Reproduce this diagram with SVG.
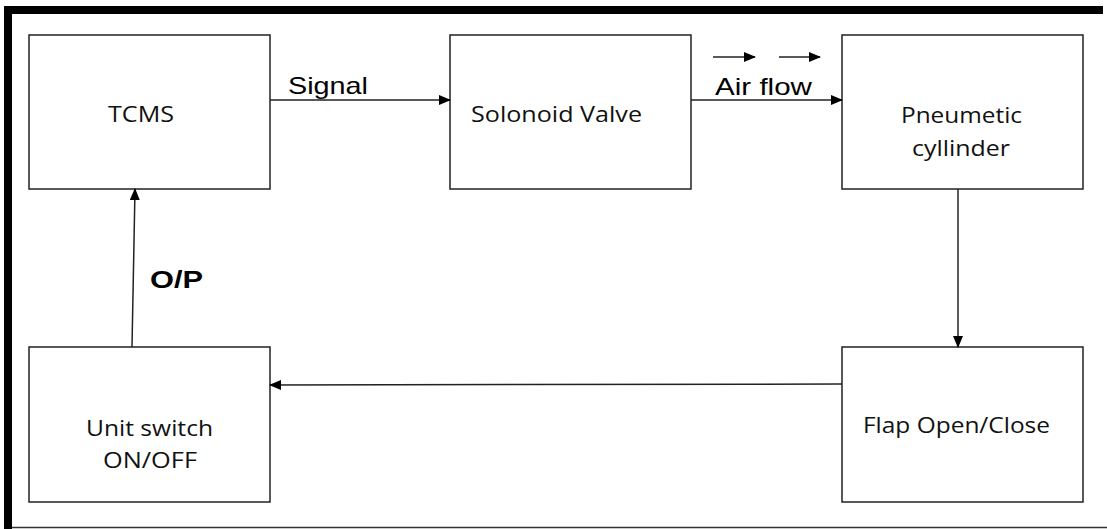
<svg xmlns="http://www.w3.org/2000/svg" width="1107" height="529" viewBox="0 0 1107 529">
<style>
.box{fill:#fff;stroke:#222;stroke-width:1.5}
.t{font-family:"Open Sans","Liberation Sans",sans-serif;font-size:22px;fill:#111}
.lbl{font-family:"Liberation Sans",Arial,sans-serif;font-size:24px;fill:#000}
.ln{stroke:#222;stroke-width:1.5;fill:none}
</style>
<defs>
<marker id="ah" markerWidth="12" markerHeight="10" refX="11" refY="5" orient="auto" markerUnits="userSpaceOnUse">
<path d="M0,0 L12,5 L0,10 Z" fill="#000"/>
</marker>
</defs>
<rect width="1107" height="529" fill="#fff"/>
<g id="frame">
<rect x="4" y="6" width="1099" height="8" fill="#000"/>
<rect x="4" y="6" width="8" height="523" fill="#000"/>
<line x1="12" y1="527.5" x2="1107" y2="527.5" stroke="#333" stroke-width="1.5"/>
</g>
<g id="tcms"><rect class="box" x="29" y="35" width="241" height="154"/><text class="t" x="108" y="122" textLength="66" lengthAdjust="spacingAndGlyphs">TCMS</text></g>
<g id="solenoid"><rect class="box" x="450" y="35" width="241" height="154"/><text class="t" x="471" y="122" textLength="171" lengthAdjust="spacingAndGlyphs">Solonoid Valve</text></g>
<g id="pneumatic"><rect class="box" x="842" y="35" width="241" height="154"/><text class="t" x="901" y="123" textLength="121" lengthAdjust="spacingAndGlyphs">Pneumetic</text><text class="t" x="912" y="156" textLength="98" lengthAdjust="spacingAndGlyphs">cyllinder</text></g>
<g id="flap"><rect class="box" x="842" y="347" width="241" height="155"/><text class="t" x="863" y="433" textLength="187" lengthAdjust="spacingAndGlyphs">Flap Open/Close</text></g>
<g id="unit"><rect class="box" x="29" y="347" width="241" height="155"/><text class="t" x="86" y="436" textLength="127" lengthAdjust="spacingAndGlyphs">Unit switch</text><text class="t" x="103" y="468" textLength="94" lengthAdjust="spacingAndGlyphs">ON/OFF</text></g>
<g id="connectors">
<line class="ln" x1="270" y1="100" x2="450" y2="100" marker-end="url(#ah)"/>
<line class="ln" x1="691" y1="100" x2="842" y2="100" marker-end="url(#ah)"/>
<line class="ln" x1="958" y1="189" x2="958" y2="347" marker-end="url(#ah)"/>
<line class="ln" x1="842" y1="384" x2="270" y2="385" marker-end="url(#ah)"/>
<line class="ln" x1="132" y1="347" x2="135" y2="189" marker-end="url(#ah)"/>
<line class="ln" x1="713" y1="57" x2="755" y2="57" marker-end="url(#ah)"/>
<line class="ln" x1="779" y1="57" x2="820" y2="57" marker-end="url(#ah)"/>
</g>
<g id="labels">
<text class="lbl" x="288" y="94" textLength="80" lengthAdjust="spacingAndGlyphs">Signal</text>
<text class="lbl" x="715" y="95" textLength="97" lengthAdjust="spacingAndGlyphs">Air flow</text>
<text class="lbl" x="150" y="288" font-weight="bold" textLength="53" lengthAdjust="spacingAndGlyphs">O/P</text>
</g>
</svg>
